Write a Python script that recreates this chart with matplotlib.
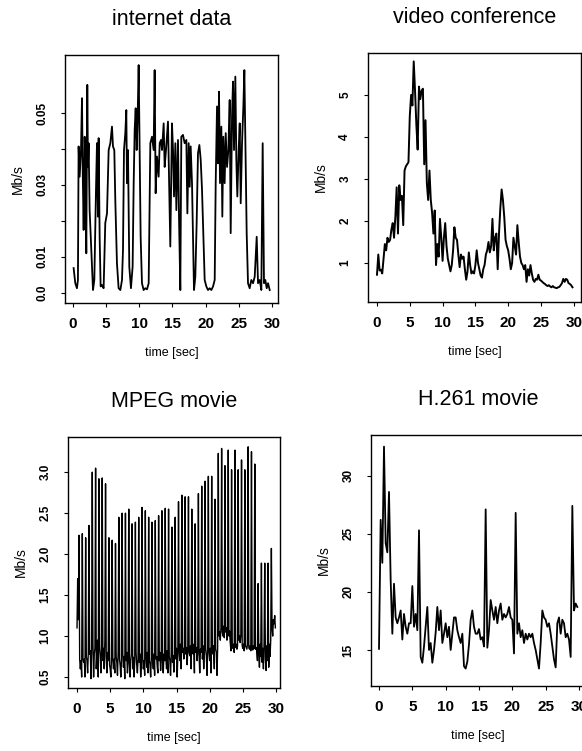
import numpy as np
import matplotlib
matplotlib.use("Agg")
import matplotlib.pyplot as plt

plt.rcParams['font.family'] = ['Liberation Sans', 'DejaVu Sans']
plt.rcParams['font.weight'] = 'bold'

# ---- data ----
# internet data: irregular vertices (sec, Mb/s)
internet_t = [0.10, 0.35, 0.60, 0.75, 0.85, 1.01, 1.21, 1.36, 1.46, 1.61,
              1.76, 1.86, 2.01, 2.16, 2.26, 2.36, 2.51, 2.76, 3.02, 3.22,
              3.47, 3.62, 3.77, 3.87, 4.02, 4.17, 4.37, 4.62, 4.87, 5.13,
              5.38, 5.63, 5.88, 6.03, 6.23, 6.38, 6.63, 6.88, 7.14, 7.39,
              7.54, 7.69, 7.89, 8.04, 8.14, 8.29, 8.49, 8.74, 8.99, 9.15,
              9.30, 9.45, 9.60, 9.75, 9.90, 10.05, 10.20, 10.40, 10.65, 10.90,
              11.16, 11.41, 11.66, 11.91, 12.16, 12.31, 12.46, 12.66, 12.91, 13.07,
              13.27, 13.42, 13.67, 13.82, 14.02, 14.32, 14.52, 14.67,
              14.92, 15.08, 15.23, 15.43, 15.58, 15.83, 15.98, 16.18, 16.33, 16.58,
              16.83, 17.09, 17.24, 17.44, 17.59, 17.74, 17.94, 18.09, 18.24, 18.44,
              18.64, 18.84, 19.05, 19.25, 19.45, 19.65, 19.85, 20.10, 20.35, 20.60,
              20.85, 21.11, 21.36, 21.51, 21.71, 21.86, 22.01, 22.16, 22.36, 22.51,
              22.66, 22.86, 23.02, 23.22, 23.42, 23.62, 23.77, 23.97, 24.12, 24.27,
              24.47, 24.62, 24.77, 24.97, 25.13, 25.28, 25.48, 25.68, 25.83, 25.98,
              26.18, 26.38, 26.63, 26.88, 27.14, 27.39, 27.54, 27.69, 27.89, 28.14,
              28.39, 28.59, 28.79, 28.99, 29.20, 29.40, 29.65]
internet_mbps = [0.0069, 0.0027, 0.0013, 0.0036, 0.0407, 0.0323, 0.0397, 0.0541, 0.0351, 0.0175,
                 0.0434, 0.0370, 0.0110, 0.0578, 0.0350, 0.0416, 0.0230, 0.0120, 0.0008, 0.0036,
                 0.0286, 0.0416, 0.0212, 0.0430, 0.0156, 0.0018, 0.0022, 0.0013, 0.0194, 0.0221,
                 0.0397, 0.0416, 0.0462, 0.0407, 0.0397, 0.0258, 0.0082, 0.0013, 0.0008, 0.0036,
                 0.0120, 0.0397, 0.0444, 0.0508, 0.0305, 0.0397, 0.0073, 0.0013, 0.0073, 0.0305,
                 0.0453, 0.0513, 0.0397, 0.0490, 0.0633, 0.0397, 0.0156, 0.0027, 0.0008, 0.0013,
                 0.0010, 0.0027, 0.0416, 0.0434, 0.0397, 0.0619, 0.0277, 0.0379, 0.0323, 0.0416,
                 0.0425, 0.0397, 0.0471, 0.0350, 0.0397, 0.0476, 0.0286, 0.0129,
                 0.0471, 0.0397, 0.0268, 0.0416, 0.0230, 0.0425, 0.0212, 0.0008, 0.0434, 0.0439,
                 0.0416, 0.0425, 0.0221, 0.0416, 0.0295, 0.0407, 0.0305, 0.0156, 0.0008, 0.0045,
                 0.0194, 0.0388, 0.0411, 0.0370, 0.0286, 0.0156, 0.0036, 0.0018, 0.0008, 0.0013,
                 0.0008, 0.0018, 0.0036, 0.0305, 0.0518, 0.0360, 0.0559, 0.0305, 0.0462, 0.0212,
                 0.0434, 0.0305, 0.0444, 0.0350, 0.0397, 0.0536, 0.0166, 0.0490, 0.0587, 0.0397,
                 0.0601, 0.0370, 0.0268, 0.0397, 0.0471, 0.0249, 0.0416, 0.0518, 0.0619, 0.0425,
                 0.0166, 0.0027, 0.0013, 0.0036, 0.0027, 0.0045, 0.0100, 0.0156, 0.0027, 0.0036,
                 0.0008, 0.0416, 0.0027, 0.0036, 0.0013, 0.0027, 0.0008]

# video conference: one value every 0.2 s
video_step = 0.2
video_mbps = [0.72, 1.20, 0.82, 0.84, 0.75, 1.10, 1.45, 1.30, 1.60, 1.50,
              1.55, 1.80, 1.95, 1.60, 2.10, 2.80, 1.70, 2.85, 2.50, 2.60,
              1.90, 3.20, 3.30, 3.35, 3.40, 4.50, 5.00, 4.75, 5.80, 5.10,
              4.30, 3.70, 5.20, 4.90, 5.10, 5.15, 3.35, 4.40, 2.90, 2.50,
              3.20, 2.50, 2.20, 1.70, 2.25, 0.95, 1.45, 1.15, 2.05, 1.60,
              1.05, 1.60, 1.95, 1.40, 1.10, 0.95, 0.80, 0.95, 1.30, 1.85,
              1.60, 1.55, 1.20, 0.90, 1.20, 1.10, 1.15, 0.85, 0.60, 0.80,
              1.25, 0.95, 0.75, 0.80, 0.75, 0.95, 1.30, 1.00, 0.85, 0.70,
              0.65, 0.85, 0.95, 1.20, 1.30, 1.50, 1.25, 1.40, 2.05, 1.30,
              1.60, 1.70, 0.85, 1.70, 2.30, 2.75, 2.50, 2.10, 1.55, 1.40,
              1.30, 1.10, 0.85, 1.00, 1.60, 1.40, 1.20, 1.90, 1.50, 1.15,
              1.00, 0.95, 0.85, 0.95, 0.55, 0.85, 0.70, 0.95, 0.75, 0.60,
              0.55, 0.62, 0.60, 0.72, 0.60, 0.58, 0.55, 0.52, 0.50, 0.47,
              0.45, 0.47, 0.44, 0.42, 0.45, 0.42, 0.41, 0.40, 0.42, 0.43,
              0.47, 0.52, 0.62, 0.55, 0.62, 0.60, 0.52, 0.50, 0.47, 0.42]

# MPEG movie: one value every 0.1 s (I-frame spikes twice a second)
mpeg_step = 0.1
mpeg_mbps = [1.10, 1.70, 1.20, 2.23, 0.72, 0.60, 0.70, 0.50, 2.25, 0.72,
             0.68, 0.72, 0.50, 2.20, 0.75, 0.70, 0.55, 0.80, 2.35, 0.78,
             0.82, 0.48, 0.85, 3.00, 0.90, 0.50, 0.78, 0.85, 3.05, 0.60,
             0.80, 0.95, 0.50, 2.92, 0.85, 0.75, 0.55, 0.90, 2.93, 0.70,
             0.85, 0.60, 0.95, 2.86, 0.75, 0.55, 0.80, 0.70, 2.20, 0.65,
             0.60, 0.50, 0.75, 2.17, 0.70, 0.60, 0.72, 0.55, 2.13, 0.75,
             0.68, 0.52, 0.80, 2.45, 0.72, 0.65, 0.50, 0.70, 2.50, 0.78,
             0.62, 0.75, 0.48, 2.50, 0.70, 0.80, 0.55, 0.66, 2.55, 0.72,
             0.50, 0.70, 0.78, 2.37, 0.60, 0.74, 0.50, 0.70, 2.39, 0.80,
             0.65, 0.55, 0.72, 2.45, 0.68, 0.78, 0.50, 0.66, 2.57, 0.74,
             0.60, 0.70, 0.52, 2.53, 0.75, 0.62, 0.80, 0.55, 2.45, 0.70,
             0.66, 0.50, 0.74, 2.39, 0.70, 0.60, 0.78, 0.52, 2.41, 0.72,
             0.75, 0.62, 0.55, 2.47, 0.70, 0.80, 0.58, 0.74, 2.53, 0.68,
             0.55, 0.78, 0.70, 2.56, 0.72, 0.60, 0.82, 0.55, 2.55, 0.75,
             0.70, 0.52, 0.80, 2.33, 0.68, 0.76, 0.56, 0.80, 2.45, 0.72,
             0.85, 0.50, 0.78, 2.64, 0.82, 0.70, 0.90, 0.60, 2.72, 0.80,
             0.85, 0.72, 0.88, 2.70, 0.78, 0.86, 0.65, 0.84, 2.70, 0.80,
             0.76, 0.88, 0.60, 2.55, 0.82, 0.78, 0.90, 0.55, 2.37, 0.80,
             0.86, 0.70, 0.82, 2.74, 0.78, 0.55, 0.84, 0.80, 2.83, 0.72,
             0.88, 0.60, 0.80, 2.89, 0.84, 0.76, 0.52, 0.86, 2.95, 0.80,
             0.70, 0.85, 0.55, 2.95, 0.82, 0.78, 0.88, 0.60, 2.67, 0.84,
             0.80, 0.52, 0.86, 3.23, 1.00, 1.05, 0.95, 1.10, 3.29, 1.05,
             1.00, 1.12, 0.98, 3.08, 1.05, 1.10, 0.95, 1.08, 3.27, 1.00,
             1.06, 0.92, 0.82, 3.03, 0.88, 0.85, 0.90, 0.80, 3.27, 0.86,
             0.90, 0.84, 0.88, 3.03, 0.95, 1.00, 0.92, 1.02, 3.15, 0.88,
             0.85, 0.90, 0.82, 3.03, 0.88, 0.86, 0.84, 0.90, 3.31, 0.86,
             0.84, 0.88, 0.82, 3.25, 0.86, 0.83, 0.88, 0.85, 3.10, 0.84,
             0.86, 0.82, 0.70, 1.64, 0.80, 0.62, 0.90, 0.75, 1.89, 0.68,
             0.85, 0.60, 0.92, 1.89, 0.72, 0.58, 0.88, 0.70, 1.89, 0.62,
             0.90, 0.75, 0.95, 2.07, 1.10, 1.00, 1.20, 1.15, 1.25, 1.10]

# H.261 movie: one value every 0.25 s
h261_step = 0.25
h261_mbps = [15.1, 26.2, 22.5, 32.5, 24.2, 23.4, 28.6, 21.0, 16.4, 20.7,
             17.8, 17.3, 17.8, 18.4, 15.9, 18.1, 17.0, 16.4, 17.3, 17.3,
             20.5, 17.0, 18.1, 16.7, 25.3, 14.4, 13.9, 15.3, 17.0, 18.7,
             15.0, 15.6, 13.9, 15.0, 16.5, 18.7, 16.7, 18.4, 15.6, 16.4,
             17.3, 16.1, 17.0, 15.0, 16.4, 17.8, 17.8, 16.7, 16.1, 15.6,
             16.4, 13.6, 13.4, 14.0, 15.5, 17.6, 18.4, 17.0, 16.4, 16.4,
             16.8, 15.9, 16.1, 15.3, 27.1, 15.2, 16.7, 19.3, 18.4, 17.6,
             18.7, 17.3, 18.4, 19.0, 17.6, 18.1, 17.8, 18.1, 18.7, 17.8,
             17.6, 14.7, 26.8, 16.4, 17.3, 16.1, 16.7, 15.6, 16.4, 15.9,
             16.4, 16.1, 16.4, 15.6, 15.0, 14.2, 13.4, 15.6, 18.4, 17.8,
             17.6, 17.0, 17.3, 16.4, 15.3, 14.2, 13.5, 17.3, 17.8, 16.4,
             17.6, 17.3, 16.1, 16.4, 15.9, 14.4, 27.4, 18.4, 19.0, 18.7]

x_ticks = [0, 5, 10, 15, 20, 25, 30]
internet_yticks = [0.0, 0.01, 0.02, 0.03, 0.04, 0.05]
internet_ylabels = ['0.0', '0.01', '', '0.03', '', '0.05']
video_yticks = [1, 2, 3, 4, 5]
mpeg_yticks = [0.5, 1.0, 1.5, 2.0, 2.5, 3.0]
h261_yticks = [15, 20, 25, 30]

W, H = 582, 751
fig = plt.figure(figsize=(W / 100, H / 100), dpi=100)


def panel(left, top, right, bottom):
    return fig.add_axes([left / W, 1 - bottom / H, (right - left) / W, (bottom - top) / H])


def dress(ax, title, xlim, ylim, yticks, ylabels=None):
    ax.set_xlim(*xlim)
    ax.set_ylim(*ylim)
    ax.set_xticks(x_ticks)
    ax.set_yticks(yticks)
    if ylabels is not None:
        ax.set_yticklabels(ylabels)
    ax.tick_params(direction='out', length=3, width=0.8, colors='black')
    ax.tick_params(axis='x', pad=7, labelsize=11)
    ax.tick_params(axis='y', labelrotation=90, pad=9, labelsize=8.5)
    for lab in ax.get_yticklabels():
        lab.set_va('center')
    for s in ax.spines.values():
        s.set_linewidth(1.0)
    hpx = ax.get_position().height * H
    wpx = ax.get_position().width * W
    ax.set_xlabel('time [sec]', fontsize=9, va='center')
    ax.xaxis.set_label_coords(0.5, -50 / hpx)
    ax.set_ylabel('Mb/s', fontsize=10, va='center')
    ax.yaxis.set_label_coords(-47 / wpx, 0.5)
    ax.annotate(title, xy=(0.5, 1), xycoords='axes fraction', xytext=(0, 25.5),
                textcoords='offset points', ha='center', va='center',
                fontsize=15.5, fontweight='normal')


ax1 = panel(65, 55, 278, 303)
ax1.plot(internet_t, internet_mbps, color='black', lw=1.3)
dress(ax1, 'internet data', (-1.2, 30.9), (-0.0028, 0.0661), internet_yticks, internet_ylabels)

ax2 = panel(368, 53, 581, 302)
ax2.plot(np.arange(len(video_mbps)) * video_step, video_mbps, color='black', lw=1.4)
dress(ax2, 'video conference', (-1.37, 31.1), (0.07, 6.0), video_yticks)

ax3 = panel(68, 437, 280, 688)
ax3.plot(np.arange(len(mpeg_mbps)) * mpeg_step, mpeg_mbps, color='black', lw=1.0)
dress(ax3, 'MPEG movie', (-1.36, 30.6), (0.366, 3.43), mpeg_yticks)

ax4 = panel(371, 435, 585, 686)
ax4.plot(np.arange(len(h261_mbps)) * h261_step, h261_mbps, color='black', lw=1.3)
dress(ax4, 'H.261 movie', (-1.2, 30.9), (11.9, 33.5), h261_yticks)

fig.savefig('out.png', dpi=100)
